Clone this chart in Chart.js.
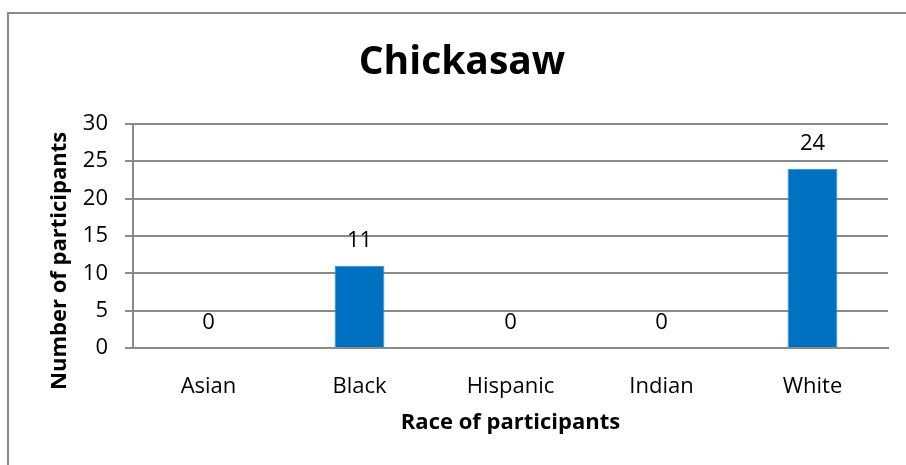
<!DOCTYPE html>
<html>
<head>
<meta charset="utf-8">
<script src="https://cdn.jsdelivr.net/npm/chart.js@4"></script>
<style>
  html, body { margin: 0; padding: 0; background: #fff; }
  #wrap { position: relative; width: 906px; height: 465px; overflow: hidden; }
  #frame { position: absolute; left: 7px; top: 12px; width: 920px; height: 480px; border: 2px solid #8a8a8a; box-sizing: border-box; }
  canvas { position: absolute; left: 0; top: 0; }
</style>
</head>
<body>
<div id="wrap">
  <div id="frame"></div>
  <canvas id="chart" width="906" height="465"></canvas>
</div>
<script>
const categories = ['Asian', 'Black', 'Hispanic', 'Indian', 'White'];
const participants = [0, 11, 0, 0, 24];
const yTicks = [0, 5, 10, 15, 20, 25, 30];
const yTitle = 'Number of participants';

const FONT = "'Open Sans', sans-serif";

// values above the bars + the y axis title (sits lower than the plot centre, like Excel)
const barLabels = {
    id: 'barLabels',
    afterDatasetsDraw(chart) {
        const ctx = chart.ctx;
        ctx.save();
        ctx.font = '22px ' + FONT;
        ctx.fillStyle = '#000';
        ctx.textAlign = 'center';
        ctx.textBaseline = 'middle';
        chart.getDatasetMeta(0).data.forEach((bar, i) => {
            ctx.fillText(String(participants[i]), bar.x, bar.y - 25);
        });
        ctx.restore();
    },
    afterDraw(chart) {
        const ctx = chart.ctx;
        const area = chart.chartArea;
        ctx.save();
        ctx.font = 'bold 22px ' + FONT;
        ctx.fillStyle = '#000';
        ctx.textAlign = 'center';
        ctx.textBaseline = 'middle';
        ctx.translate(60, (area.top + area.bottom) / 2 + 25);
        ctx.rotate(-Math.PI / 2);
        ctx.fillText(yTitle, 0, 0);
        ctx.restore();
    }
};

new Chart(document.getElementById('chart'), {
    type: 'bar',
    data: {
        labels: categories,
        datasets: [{
            data: participants,
            backgroundColor: '#0070C0',
            borderColor: '#2f86cf',
            borderWidth: 1,
            barPercentage: 0.33,
            categoryPercentage: 1
        }]
    },
    options: {
        responsive: false,
        animation: false,
        events: [],
        layout: { padding: { left: 36, right: 18, top: 0, bottom: 0 } },
        plugins: {
            legend: { display: false },
            tooltip: { enabled: false },
            title: {
                display: true,
                text: 'Chickasaw',
                color: '#000',
                font: { family: FONT, size: 39, weight: 'bold' },
                padding: { top: 39, bottom: 38 }
            }
        },
        scales: {
            x: {
                grid: { display: false },
                border: { display: true, color: '#8a8a8a', width: 2 },
                ticks: { color: '#000', font: { family: FONT, size: 22 }, padding: 18, maxRotation: 0 },
                title: {
                    display: true,
                    text: 'Race of participants',
                    color: '#000',
                    font: { family: FONT, size: 22, weight: 'bold' },
                    padding: { top: 0, bottom: 29 }
                },
                afterFit(s) { s.height = 117; }
            },
            y: {
                min: 0,
                max: 30,
                afterBuildTicks(s) { s.ticks = yTicks.map(v => ({ value: v })); },
                grid: { color: '#8a8a8a', lineWidth: 2, tickLength: 8 },
                border: { display: true, color: '#8a8a8a', width: 2 },
                ticks: { color: '#000', font: { family: FONT, size: 22 }, padding: 17 },
                afterFit(s) { s.width = 97; }
            }
        }
    },
    plugins: [barLabels]
});
</script>
</body>
</html>
